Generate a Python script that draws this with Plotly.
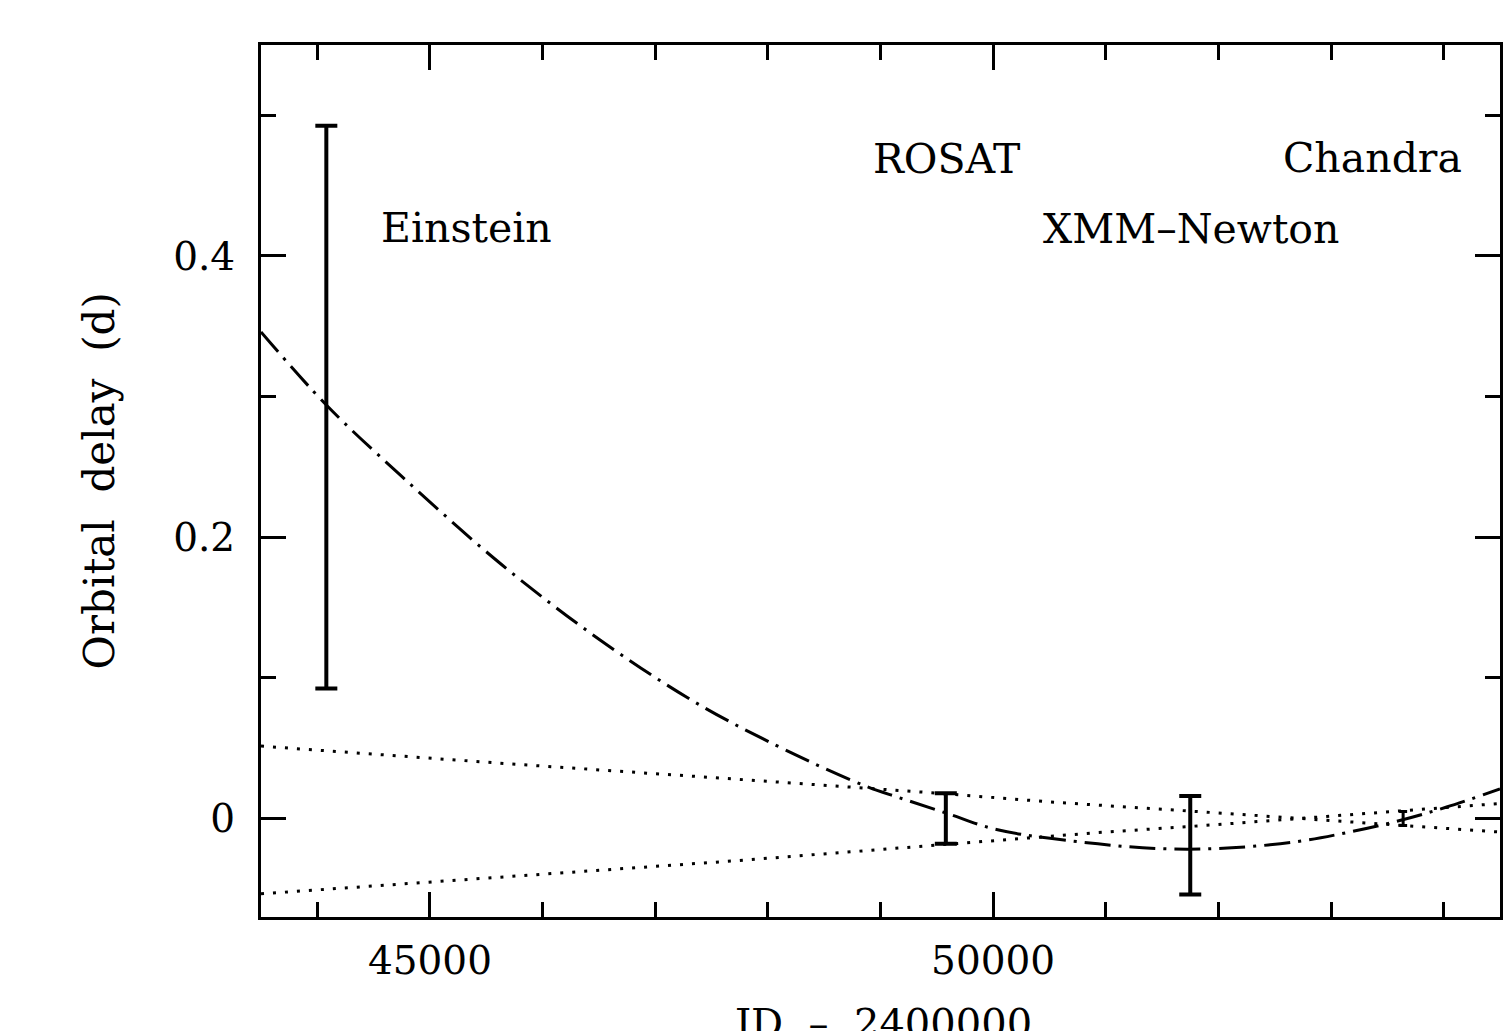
import plotly.graph_objects as go

# ---- data ----
# error-bar measurements (JD-2400000, delay in days, +/- error)
obs_names = ["Einstein", "ROSAT", "XMM\u2013Newton"]
obs_jd = [44080, 49580, 51750]
obs_delay = [0.2925, 0.0, -0.019]
obs_err = [0.200, 0.018, 0.035]

chandra_jd = [53640]
chandra_delay = [0.0]
chandra_err = [0.005]

# dash-dot model curve
curve_jd = [43500, 44080, 44740, 45630, 46510, 47390, 48280, 48870, 49160, 49580,
            50040, 50930, 51520, 52080, 52690, 53140, 53580, 54020, 54500]
curve_delay = [0.346, 0.294, 0.244, 0.181, 0.127, 0.081, 0.044, 0.023, 0.015, 0.004,
               -0.008, -0.018, -0.0215, -0.021, -0.0165, -0.010, -0.002, 0.008, 0.021]

# dotted lines
dotA_jd = [43500, 45690, 47720, 49425, 50575, 52075, 54500]
dotA_delay = [0.0515, 0.039, 0.028, 0.0185, 0.0114, 0.0036, -0.0096]
dotB_jd = [43500, 47720, 49160, 50930, 51990, 54500]
dotB_delay = [-0.0535, -0.030, -0.021, -0.010, -0.0043, 0.0107]

# label positions (data coords)
lab_text = ["Einstein", "ROSAT", "XMM\u2013Newton", "Chandra"]
lab_x = [45320, 49585, 51758, 53370]
lab_y = [0.420, 0.469, 0.419, 0.470]

x_ticks = [45000, 50000]
y_ticks = [0, 0.2, 0.4]

SERIF = "DejaVu Serif"

fig = go.Figure()

fig.add_trace(go.Scatter(x=dotA_jd, y=dotA_delay, mode="lines",
                         line=dict(color="black", width=3, dash="3px,9px"),
                         showlegend=False, hoverinfo="skip"))
fig.add_trace(go.Scatter(x=dotB_jd, y=dotB_delay, mode="lines",
                         line=dict(color="black", width=3, dash="3px,9px"),
                         showlegend=False, hoverinfo="skip"))
fig.add_trace(go.Scatter(x=curve_jd, y=curve_delay, mode="lines",
                         line=dict(color="black", width=3, dash="26px,8px,3px,8px",
                                   shape="spline", smoothing=1.0),
                         showlegend=False, hoverinfo="skip"))
fig.add_trace(go.Scatter(x=obs_jd, y=obs_delay, mode="markers",
                         marker=dict(size=1, color="rgba(0,0,0,0)"),
                         error_y=dict(type="data", array=obs_err, visible=True,
                                      color="black", thickness=4, width=11),
                         showlegend=False, hoverinfo="skip"))
fig.add_trace(go.Scatter(x=chandra_jd, y=chandra_delay, mode="markers",
                         marker=dict(size=1, color="rgba(0,0,0,0)"),
                         error_y=dict(type="data", array=chandra_err, visible=True,
                                      color="black", thickness=3, width=4),
                         showlegend=False, hoverinfo="skip"))

for t, x, y in zip(lab_text, lab_x, lab_y):
    fig.add_annotation(x=x, y=y, xref="x", yref="y", text=t, showarrow=False,
                       xanchor="center", yanchor="middle",
                       font=dict(family=SERIF, size=41, color="black"))

# axis titles
fig.add_annotation(x=(99 - 261) / 1242, y=0.5, xref="paper", yref="paper",
                   text="Orbital\u00a0\u00a0delay\u00a0\u00a0(d)", textangle=-90,
                   showarrow=False, xanchor="center", yanchor="middle",
                   font=dict(family=SERIF, size=42, color="black"))
fig.add_annotation(x=(883 - 261) / 1242, y=(917 - 998) / 872, xref="paper", yref="paper",
                   text="JD\u00a0\u00a0\u2013\u00a0\u00a02400000",
                   showarrow=False, xanchor="center", yanchor="top",
                   font=dict(family=SERIF, size=40, color="black"))

axis_common = dict(showline=True, linewidth=3, linecolor="black", mirror="ticks",
                   ticks="inside", ticklen=25, tickwidth=3, tickcolor="black",
                   showgrid=False, zeroline=False,
                   tickfont=dict(family=SERIF, size=39, color="black"))

fig.update_xaxes(range=[43500, 54500], tickvals=x_ticks, tickformat="d",
                 ticklabelstandoff=7,
                 minor=dict(dtick=1000, tick0=0, ticks="inside", ticklen=15,
                            tickwidth=3, tickcolor="black", showgrid=False),
                 **axis_common)
fig.update_yaxes(range=[-0.07, 0.55], tickvals=y_ticks, ticktext=["0", "0.2", "0.4"],
                 ticklabelstandoff=15,
                 minor=dict(dtick=0.1, tick0=0, ticks="inside", ticklen=15,
                            tickwidth=3, tickcolor="black", showgrid=False),
                 **axis_common)

fig.update_layout(width=1506, height=1031,
                  margin=dict(l=261, r=3, t=45, b=114),
                  paper_bgcolor="white", plot_bgcolor="white",
                  showlegend=False)

fig.write_html("out.html", config={"displayModeBar": False},
               post_script="document.body.style.margin='0';document.body.style.overflow='hidden';")
